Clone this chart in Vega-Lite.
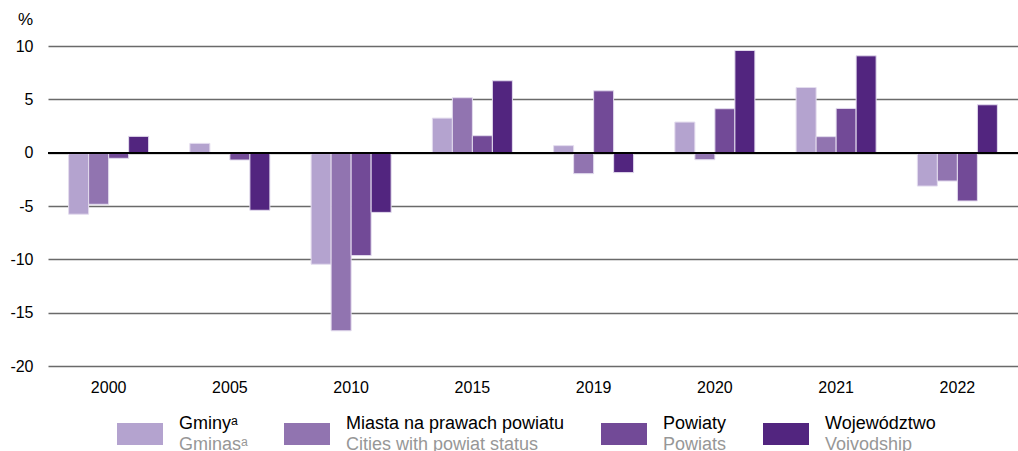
{
  "$schema": "https://vega.github.io/schema/vega-lite/v6.json",
  "width": 970,
  "height": 320,
  "autosize": {"type": "none"},
  "padding": {"left": 48, "top": 46, "right": 0, "bottom": 85},
  "background": "white",
  "config": {"view": {"stroke": null}, "font": "Liberation Sans"},
  "data": {
    "values": [
      {"year": "2000", "series": "Gminy", "en": "Gminas", "value": -5.77},
      {"year": "2000", "series": "Miasta na prawach powiatu", "en": "Cities with powiat status", "value": -4.84},
      {"year": "2000", "series": "Powiaty", "en": "Powiats", "value": -0.53},
      {"year": "2000", "series": "Województwo", "en": "Voivodship", "value": 1.53},
      {"year": "2005", "series": "Gminy", "en": "Gminas", "value": 0.87},
      {"year": "2005", "series": "Miasta na prawach powiatu", "en": "Cities with powiat status", "value": 0},
      {"year": "2005", "series": "Powiaty", "en": "Powiats", "value": -0.69},
      {"year": "2005", "series": "Województwo", "en": "Voivodship", "value": -5.4},
      {"year": "2010", "series": "Gminy", "en": "Gminas", "value": -10.46},
      {"year": "2010", "series": "Miasta na prawach powiatu", "en": "Cities with powiat status", "value": -16.7},
      {"year": "2010", "series": "Powiaty", "en": "Powiats", "value": -9.65},
      {"year": "2010", "series": "Województwo", "en": "Voivodship", "value": -5.6},
      {"year": "2015", "series": "Gminy", "en": "Gminas", "value": 3.24},
      {"year": "2015", "series": "Miasta na prawach powiatu", "en": "Cities with powiat status", "value": 5.15},
      {"year": "2015", "series": "Powiaty", "en": "Powiats", "value": 1.59},
      {"year": "2015", "series": "Województwo", "en": "Voivodship", "value": 6.74},
      {"year": "2019", "series": "Gminy", "en": "Gminas", "value": 0.66},
      {"year": "2019", "series": "Miasta na prawach powiatu", "en": "Cities with powiat status", "value": -1.97},
      {"year": "2019", "series": "Powiaty", "en": "Powiats", "value": 5.8},
      {"year": "2019", "series": "Województwo", "en": "Voivodship", "value": -1.87},
      {"year": "2020", "series": "Gminy", "en": "Gminas", "value": 2.87},
      {"year": "2020", "series": "Miasta na prawach powiatu", "en": "Cities with powiat status", "value": -0.66},
      {"year": "2020", "series": "Powiaty", "en": "Powiats", "value": 4.12},
      {"year": "2020", "series": "Województwo", "en": "Voivodship", "value": 9.58},
      {"year": "2021", "series": "Gminy", "en": "Gminas", "value": 6.11},
      {"year": "2021", "series": "Miasta na prawach powiatu", "en": "Cities with powiat status", "value": 1.5},
      {"year": "2021", "series": "Powiaty", "en": "Powiats", "value": 4.15},
      {"year": "2021", "series": "Województwo", "en": "Voivodship", "value": 9.08},
      {"year": "2022", "series": "Gminy", "en": "Gminas", "value": -3.13},
      {"year": "2022", "series": "Miasta na prawach powiatu", "en": "Cities with powiat status", "value": -2.66},
      {"year": "2022", "series": "Powiaty", "en": "Powiats", "value": -4.53},
      {"year": "2022", "series": "Województwo", "en": "Voivodship", "value": 4.49}
    ]
  },
  "layer": [
    {
      "mark": {"type": "bar", "strokeWidth": 1},
      "encoding": {
        "x": {
          "field": "year", "type": "nominal", "sort": null,
          "scale": {"paddingInner": 0.34, "paddingOuter": 0.17},
          "axis": {"title": null, "labelAngle": 0, "domain": false, "ticks": false, "grid": false, "labelPadding": 13, "labelFontSize": 16, "labelColor": "black", "labelFont": "Liberation Sans"}
        },
        "xOffset": {"field": "series", "type": "nominal", "scale": {"paddingInner": 0, "paddingOuter": 0}},
        "y": {
          "field": "value", "type": "quantitative",
          "scale": {"domain": [-20, 10], "nice": false, "zero": false},
          "axis": {
            "title": "%", "titleAngle": 0, "titleX": -23, "titleY": -27, "titleAlign": "center", "titleBaseline": "middle",
            "titleFontSize": 17, "titleFontWeight": "normal", "titleColor": "black", "titleFont": "Liberation Sans",
            "values": [-20, -15, -10, -5, 0, 5, 10],
            "labelExpr": "'' + datum.value",
            "grid": true, "gridColor": "#6a6a6a", "gridWidth": 1.5,
            "domain": false, "ticks": false, "labelPadding": 15, "labelFontSize": 16, "labelColor": "black", "labelFont": "Liberation Sans"
          }
        },
        "color": {
          "field": "series", "type": "nominal",
          "scale": {"domain": ["Gminy", "Miasta na prawach powiatu", "Powiaty", "Województwo"], "range": ["#b4a3cf", "#9174b0", "#724a97", "#52257f"]},
          "legend": {
            "title": null, "orient": "none", "legendX": 69, "legendY": 365, "direction": "horizontal",
            "symbolType": "M-1,-0.478H1V0.478H-1Z", "symbolSize": 2116, "symbolStrokeWidth": 0, "symbolOpacity": 1,
            "labelFontSize": 18, "labelColor": "black", "labelFont": "Liberation Sans", "labelOffset": 16, "columnPadding": 36,
            "labelBaseline": "alphabetic", "labelLimit": 400,
            "labelExpr": "datum.label == 'Gminy' ? ['Gminyᵃ', 'Gminasᵃ'] : datum.label == 'Miasta na prawach powiatu' ? [datum.label, 'Cities with powiat status'] : datum.label == 'Powiaty' ? [datum.label, 'Powiats'] : [datum.label, 'Voivodship']",
            "encode": {"labels": {"update": {"lineHeight": {"value": 600}, "dy": {"value": -5}}}}
          }
        },
        "stroke": {
          "field": "en", "type": "nominal",
          "scale": {"domain": ["Gminas", "Cities with powiat status", "Powiats", "Voivodship"], "range": ["#e3dcee", "#e3dcee", "#e3dcee", "#e3dcee"]},
          "legend": {
            "title": null, "orient": "none", "legendX": 69, "legendY": 381, "direction": "horizontal",
            "symbolType": "M-1,-0.478H1V0.478H-1Z", "symbolSize": 2116, "symbolStrokeWidth": 0, "symbolOpacity": 0,
            "labelFontSize": 18, "labelColor": "#979797", "labelFont": "Liberation Sans", "labelOffset": 16, "columnPadding": 36,
            "labelBaseline": "alphabetic", "labelLimit": 400,
            "labelExpr": "datum.label == 'Gminas' ? ['Gminasᵃ', 'Gminyᵃ'] : datum.label == 'Cities with powiat status' ? [datum.label, 'Miasta na prawach powiatu'] : datum.label == 'Powiats' ? [datum.label, 'Powiaty'] : [datum.label, 'Województwo']",
            "encode": {"labels": {"update": {"lineHeight": {"value": 600}, "dy": {"value": -5}}}}
          }
        }
      }
    },
    {
      "mark": {"type": "rule", "color": "black", "strokeWidth": 1.5},
      "encoding": {"y": {"datum": 0}}
    }
  ]
}
